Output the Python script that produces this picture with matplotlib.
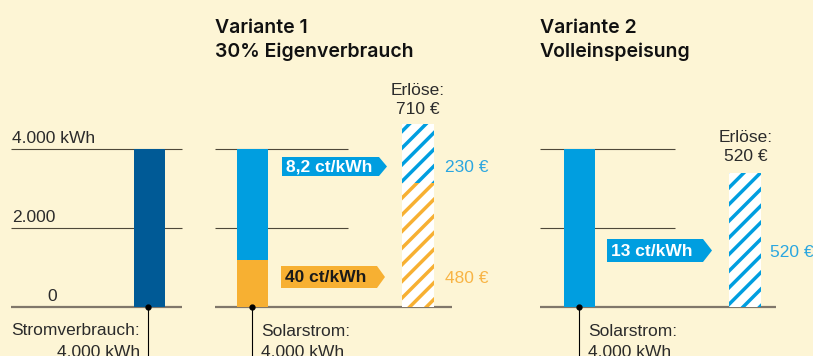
import matplotlib.pyplot as plt
from matplotlib.patches import Polygon

plt.rcParams['font.family'] = ['Liberation Sans', 'DejaVu Sans']
plt.rcParams['hatch.linewidth'] = 2.5

# kWh per year
verbrauch_kwh = 4000
solar_kwh = 4000
eigenverbrauch_kwh = [1200]          # 30% used in the house
einspeisung_kwh = [2800, 4000]       # fed into the grid (Variante 1, Variante 2)

# earnings in euro
erloes_eigen = [480]
erloes_einspeisung = [230, 520]
erloes_total = [710, 520]

# price tags
preise = ['40 ct/kWh', '8,2 ct/kWh', '13 ct/kWh']

grid_vals = [2000, 4000]
tick_labels = ['0', '2.000', '4.000 kWh']

titles = [('Variante 1', '30% Eigenverbrauch'), ('Variante 2', 'Volleinspeisung')]

BG = '#FDF5D5'
DARK = '#005A96'
BLUE = '#009EE0'
ORANGE = '#F7B032'
GRID = '#4E4839'
BASE = '#80776A'
TXT = '#2B2B2B'
HEAD = ['Inter', 'Roboto', 'DejaVu Sans']
FS = 12.5

W, H = 813, 356
base_px = 307                  # pixel row of the zero line
kwh_px = 158 / 4000            # pixels per kWh
eur_px = 183 / 710             # pixels per euro

fig = plt.figure(figsize=(W / 100, H / 100), dpi=100, facecolor=BG)

# pixel axes for labels and tags
ax = fig.add_axes([0, 0, 1, 1])
ax.set_xlim(0, W)
ax.set_ylim(H, 0)
ax.axis('off')

# kWh axes and euro axes share the zero line
axk = fig.add_axes([0, 0, 1, 1])
axk.set_xlim(0, W)
axk.set_ylim(-(H - base_px) / kwh_px, base_px / kwh_px)
axk.axis('off')
axk.patch.set_alpha(0)

axe = fig.add_axes([0, 0, 1, 1])
axe.set_xlim(0, W)
axe.set_ylim(-(H - base_px) / eur_px, base_px / eur_px)
axe.axis('off')
axe.patch.set_alpha(0)

# grid lines: (left, right of grid, right of zero line)
panels = [(11, 182, 182), (215, 348, 452), (540, 675, 776)]
for x0, x1, xb in panels:
    axk.hlines(grid_vals, x0, x1, color=GRID, lw=0.8, zorder=1)
    axk.hlines(0, x0, xb, color=BASE, lw=1.6, zorder=1)

# tick labels on the left panel
ax.text(12, 143, tick_labels[2], fontsize=FS, color=TXT)
ax.text(12, 222, tick_labels[1], fontsize=FS, color=TXT)
ax.text(47, 301, tick_labels[0], fontsize=FS, color=TXT)

# kWh bars
bw = 31
axk.bar(149.5, verbrauch_kwh, bw, color=DARK, zorder=3)
axk.bar(252.5, eigenverbrauch_kwh[0], bw, color=ORANGE, zorder=3)
axk.bar(252.5, einspeisung_kwh[0], bw, bottom=eigenverbrauch_kwh[0], color=BLUE, zorder=3)
axk.bar(579.5, einspeisung_kwh[1], bw, color=BLUE, zorder=3)

# euro bars, hatched
axe.bar(418, erloes_eigen[0], 32, facecolor='white', edgecolor=ORANGE,
        hatch='//', lw=0, zorder=3)
axe.bar(418, erloes_einspeisung[0], 32, bottom=erloes_eigen[0], facecolor='white',
        edgecolor=BLUE, hatch='//', lw=0, zorder=3)
axe.bar(745, erloes_einspeisung[1], 32, facecolor='white', edgecolor=BLUE,
        hatch='//', lw=0, zorder=3)

# leader lines below the bars
for x in [148, 252, 579]:
    axk.plot([x, x], [0, -(H - base_px) / kwh_px], color='black', lw=0.8, zorder=4,
             clip_on=False)
    axk.plot(x, 0, 'o', color='black', ms=3.5, zorder=5)

ax.text(140, 335, 'Stromverbrauch:', fontsize=FS, color=TXT, ha='right')
ax.text(140, 357, f'{verbrauch_kwh:,} kWh'.replace(',', '.'), fontsize=FS,
        color=TXT, ha='right')
for x in [261, 588]:
    ax.text(x, 336, 'Solarstrom:', fontsize=FS, color=TXT)
    ax.text(x, 357, f'{solar_kwh:,} kWh'.replace(',', '.'), fontsize=FS, color=TXT)

# titles
for x, (t1, t2) in zip([215, 540], titles):
    ax.text(x, 33, t1, fontsize=14, fontweight='semibold', family=HEAD, color='#111111')
    ax.text(x, 57, t2, fontsize=14, fontweight='semibold', family=HEAD, color='#111111')

# earnings above the hatched bars
for x, y, total in [(418, 95, erloes_total[0]), (746, 142, erloes_total[1])]:
    ax.text(x, y, 'Erlöse:', fontsize=FS, color=TXT, ha='center')
    ax.text(x, y + 19, f'{total} €', fontsize=FS, color=TXT, ha='center')

ax.text(445, 172, f'{erloes_einspeisung[0]} €', fontsize=FS, color='#2AA6E0')
ax.text(445, 283, f'{erloes_eigen[0]} €', fontsize=FS, color='#F8B445')
ax.text(770, 257, f'{erloes_einspeisung[1]} €', fontsize=FS, color='#2AA6E0')


def price_tag(x0, x1, tip, y0, y1, color, label, tcolor):
    yc = (y0 + y1) / 2
    pts = [(x0, y0), (x1, y0), (tip, yc), (x1, y1), (x0, y1)]
    ax.add_patch(Polygon(pts, closed=True, color=color, lw=0))
    ax.text(x0 + 4, yc + 0.5, label, fontsize=12.5, fontweight='bold',
            color=tcolor, va='center')


price_tag(282, 379, 387, 157, 176, BLUE, preise[1], 'white')
price_tag(281, 377, 385, 266, 288, ORANGE, preise[0], '#1A1A1A')
price_tag(607, 703, 712, 239, 262, BLUE, preise[2], 'white')

fig.savefig('out.png', dpi=100, facecolor=BG)
